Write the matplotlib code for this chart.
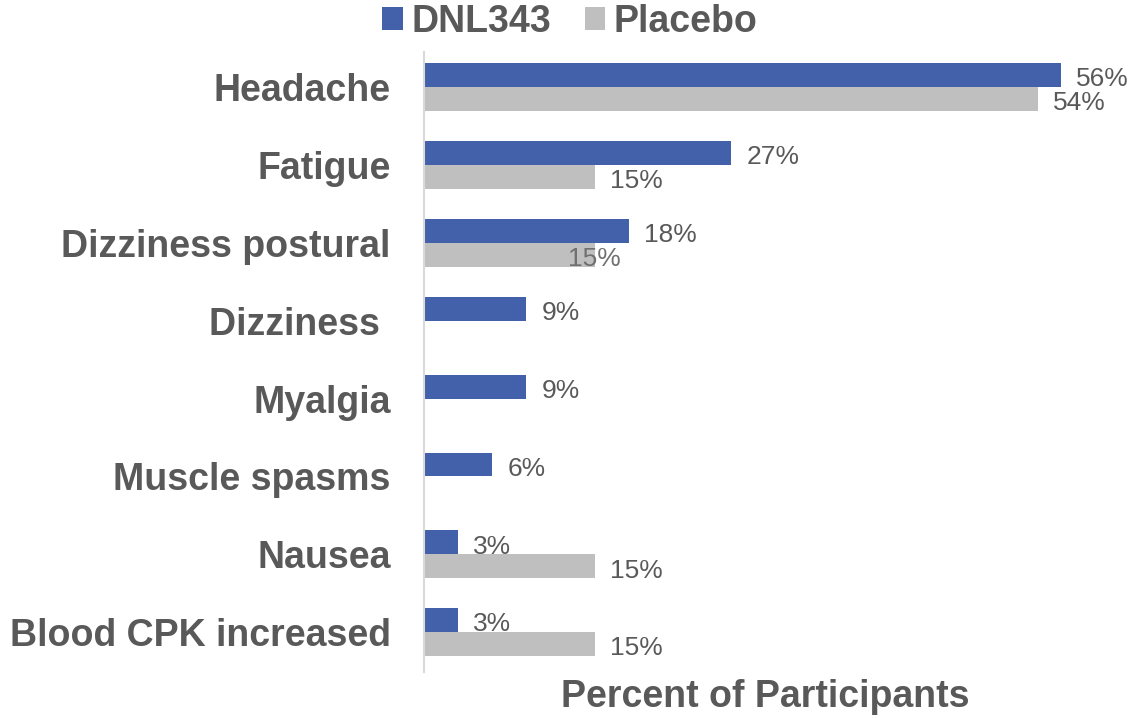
import matplotlib.pyplot as plt
import numpy as np

plt.rcParams["font.family"] = ["Liberation Sans", "DejaVu Sans"]

categories = ["Headache", "Fatigue", "Dizziness postural", "Dizziness ", "Myalgia",
              "Muscle spasms", "Nausea", "Blood CPK increased"]
dnl343 = [56, 27, 18, 9, 9, 6, 3, 3]
placebo = [54, 15, 15, 0, 0, 0, 15, 15]

blue = "#4361AA"
grey = "#BFBFBF"
txt = "#595959"

fig = plt.figure(figsize=(11.34, 7.18), dpi=100)
ax = fig.add_axes([424 / 1134, 1 - 672 / 718, (1106 - 424) / 1134, 620 / 718])

y = np.arange(len(categories))
h = 0.308
ax.barh(y - h / 2, dnl343, height=h, color=blue, label="DNL343")
ax.barh(y + h / 2, placebo, height=h, color=grey, label="Placebo")

# data labels, zero bars get none
for i in range(len(categories)):
    ax.annotate(f"{dnl343[i]}%", xy=(dnl343[i], y[i] - h / 2), xytext=(11, -3),
                textcoords="offset points", ha="left", va="center", fontsize=19, color=txt)
    if placebo[i] > 0:
        dx, c = 11, txt
        if categories[i] == "Dizziness postural":
            dx, c = -19, "#707070"  # label sits on the bar in the original
        ax.annotate(f"{placebo[i]}%", xy=(placebo[i], y[i] + h / 2), xytext=(dx, -3),
                    textcoords="offset points", ha="left", va="center", fontsize=19, color=c)

ax.set_xlim(0, 60)
ax.set_ylim(7.51, -0.45)
ax.set_yticks(y)
ax.set_yticklabels(categories, fontsize=27, fontweight="bold", color=txt)
ax.tick_params(axis="y", length=0, pad=24)
ax.set_xticks([])

for s in ["top", "right", "bottom"]:
    ax.spines[s].set_visible(False)
ax.spines["left"].set_color("#D9D9D9")
ax.spines["left"].set_linewidth(1.5)

ax.set_xlabel("Percent of Participants", fontsize=27, fontweight="bold", color=txt)
ax.xaxis.set_label_coords(0.5, -0.04)
ax.xaxis.label.set_va("center")

leg = fig.legend(loc="center", bbox_to_anchor=(570 / 1134, 1 - 22 / 718), ncol=2,
                 frameon=False, handlelength=0.55, handleheight=0.55,
                 handletextpad=0.22, columnspacing=0.9,
                 prop={"size": 27, "weight": "bold"})
for t in leg.get_texts():
    t.set_color(txt)

fig.savefig("out.png", dpi=100)
